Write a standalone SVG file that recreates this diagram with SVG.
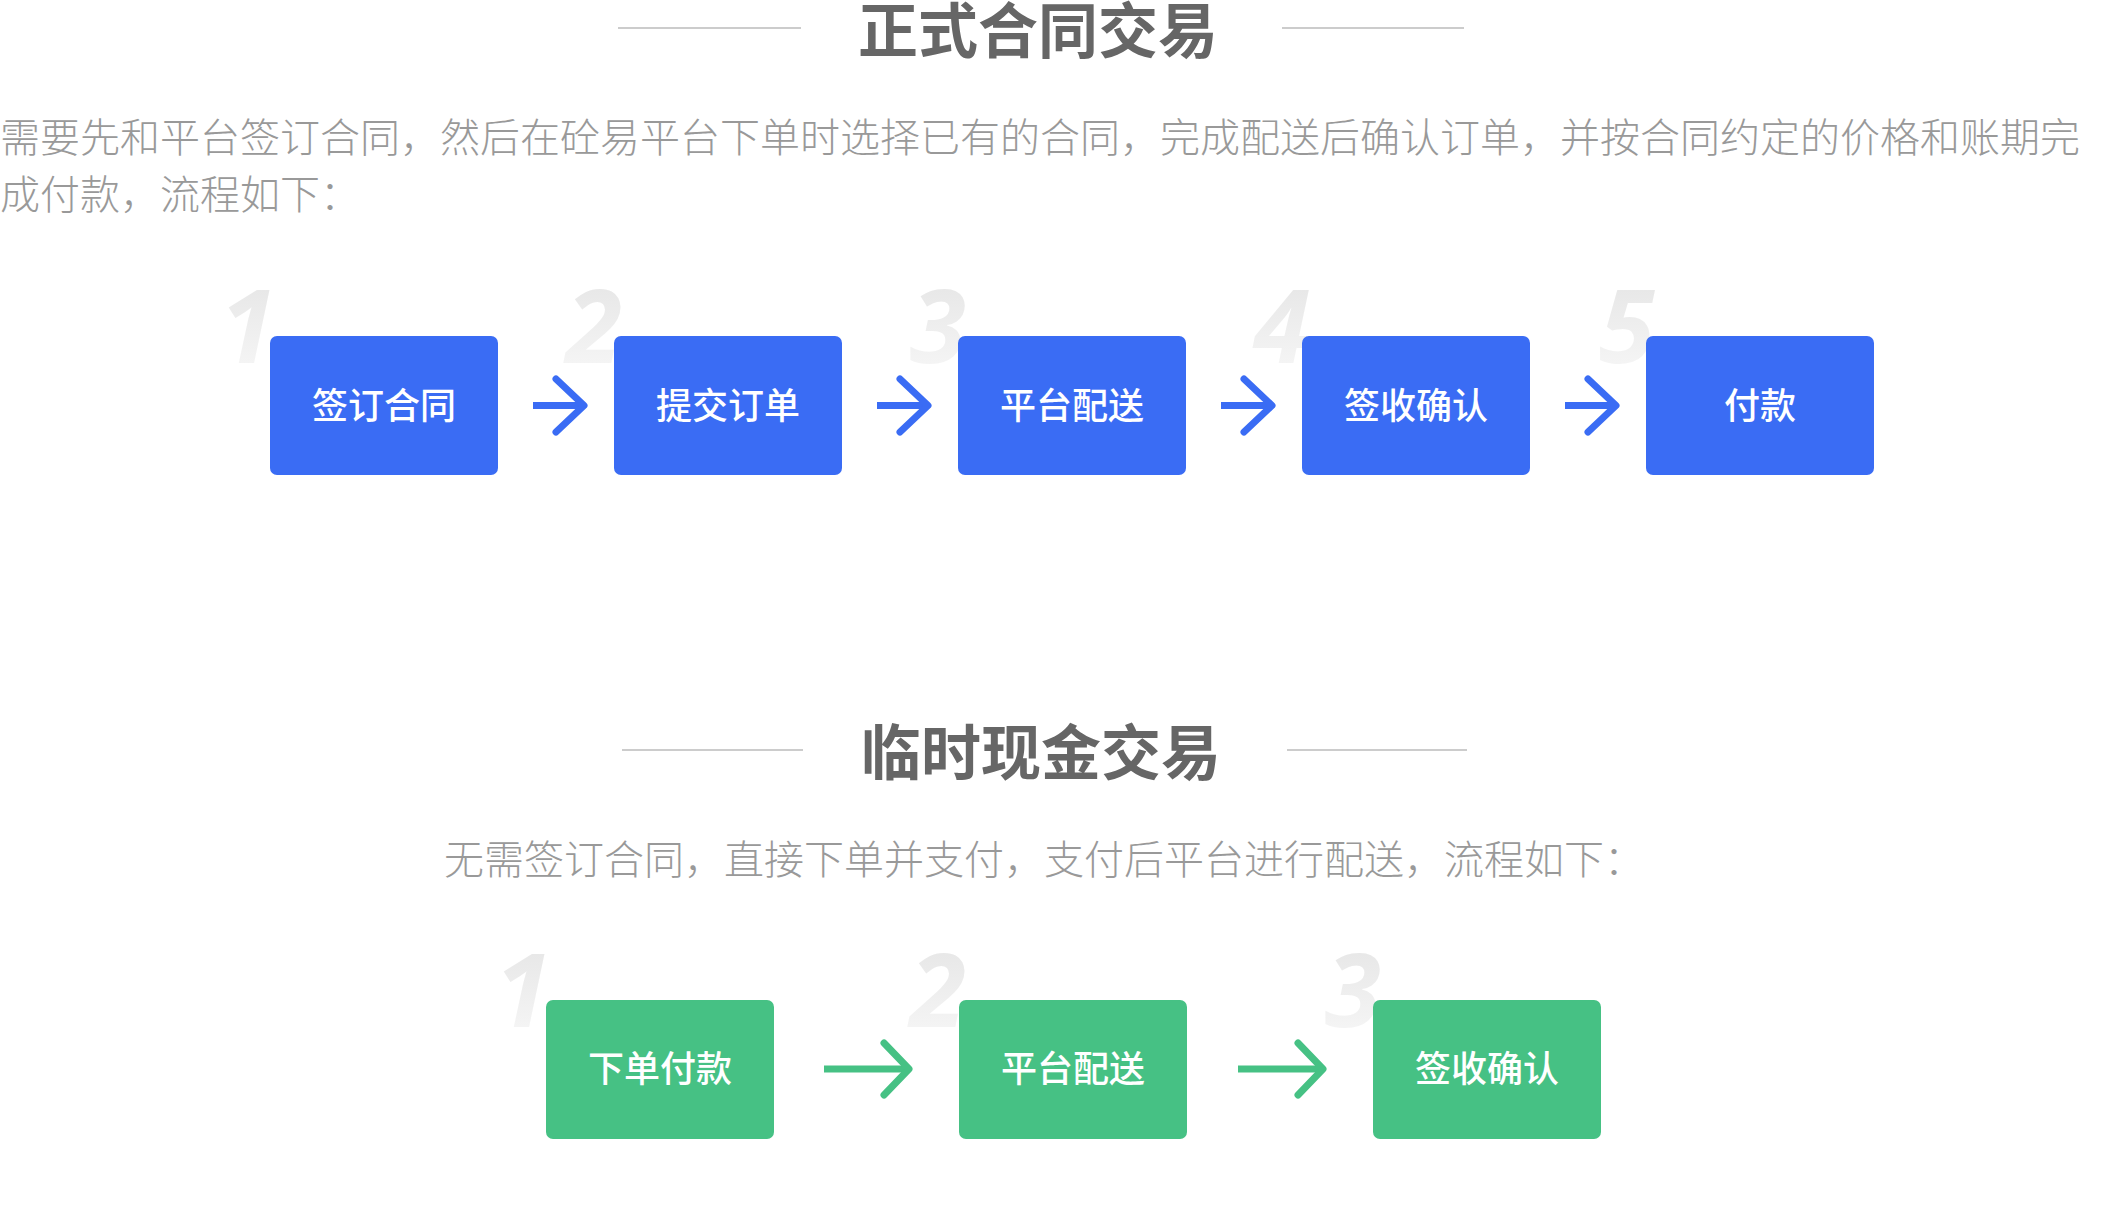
<svg xmlns="http://www.w3.org/2000/svg" width="2110" height="1210" viewBox="0 0 2110 1210">
<style>
.title{font-family:"Noto Sans CJK SC","Noto Sans",sans-serif;font-weight:bold;font-size:60px;fill:#666666;text-anchor:middle}
.para{font-family:"Noto Sans CJK SC","Noto Sans",sans-serif;font-weight:300;font-size:40px;fill:#999999}
.rule{stroke:#cccccc;stroke-width:2}
.num{font-family:"Open Sans","Noto Sans",sans-serif;font-weight:bold;font-style:italic;font-size:102px;fill:url(#numGrad);text-anchor:end}
.blue{fill:#3a6cf4}
.green{fill:#46c184}
.lbl{font-family:"Noto Sans CJK SC","Noto Sans",sans-serif;font-weight:500;font-size:36px;fill:#ffffff;text-anchor:middle}
.arrB{fill:none;stroke:#3a6cf4;stroke-width:7;stroke-linecap:round;stroke-linejoin:round}
.arrG{fill:none;stroke:#46c184;stroke-width:7;stroke-linecap:round;stroke-linejoin:round}
.shaft{stroke-linecap:butt}
</style>
<defs>
<linearGradient id="numGrad" x1="0" y1="0" x2="0" y2="1">
<stop offset="0" stop-color="#e2e2e2"/>
<stop offset="1" stop-color="#f9f9f9"/>
</linearGradient>
</defs>
<rect width="2110" height="1210" fill="#ffffff"/>

<g id="section1-header">
<line class="rule" x1="618" y1="28" x2="801" y2="28"/>
<line class="rule" x1="1282" y1="28" x2="1464" y2="28"/>
<text class="title" x="1038" y="53">正式合同交易</text>
<text class="para" x="0" y="152" textLength="2080" lengthAdjust="spacingAndGlyphs">需要先和平台签订合同，然后在砼易平台下单时选择已有的合同，完成配送后确认订单，并按合同约定的价格和账期完</text>
<text class="para" x="0" y="209">成付款，流程如下：</text>
</g>

<g id="section2-header">
<line class="rule" x1="622" y1="750" x2="803" y2="750"/>
<line class="rule" x1="1287" y1="750" x2="1467" y2="750"/>
<text class="title" x="1041" y="775">临时现金交易</text>
<text class="para" x="444" y="874">无需签订合同，直接下单并支付，支付后平台进行配送，流程如下：</text>
</g>

<g id="step-numbers">
<text class="num" x="276" y="363">1</text>
<text class="num" x="622" y="363">2</text>
<text class="num" x="966" y="363">3</text>
<text class="num" x="1310" y="363">4</text>
<text class="num" x="1655" y="363">5</text>
<text class="num" x="551" y="1027">1</text>
<text class="num" x="966" y="1027">2</text>
<text class="num" x="1381" y="1027">3</text>
</g>

<g id="connectors">
<g id="c1-1-2"><line class="arrB shaft" x1="533" y1="405.5" x2="584" y2="405.5"/><polyline class="arrB" points="556,379 584,405.5 556,432"/></g>
<g id="c1-2-3"><line class="arrB shaft" x1="877" y1="405.5" x2="928" y2="405.5"/><polyline class="arrB" points="900,379 928,405.5 900,432"/></g>
<g id="c1-3-4"><line class="arrB shaft" x1="1221" y1="405.5" x2="1272" y2="405.5"/><polyline class="arrB" points="1244,379 1272,405.5 1244,432"/></g>
<g id="c1-4-5"><line class="arrB shaft" x1="1565" y1="405.5" x2="1616" y2="405.5"/><polyline class="arrB" points="1588,379 1616,405.5 1588,432"/></g>
<g id="c2-1-2"><line class="arrG shaft" x1="824" y1="1069" x2="909" y2="1069"/><polyline class="arrG" points="884,1043 909,1069 884,1095"/></g>
<g id="c2-2-3"><line class="arrG shaft" x1="1238" y1="1069" x2="1323" y2="1069"/><polyline class="arrG" points="1298,1043 1323,1069 1298,1095"/></g>
</g>

<g id="node-sign-contract"><rect class="blue" x="270" y="336" width="228" height="139" rx="7"/><text class="lbl" x="384" y="419">签订合同</text></g>
<g id="node-submit-order"><rect class="blue" x="614" y="336" width="228" height="139" rx="7"/><text class="lbl" x="728" y="419">提交订单</text></g>
<g id="node-delivery-1"><rect class="blue" x="958" y="336" width="228" height="139" rx="7"/><text class="lbl" x="1072" y="419">平台配送</text></g>
<g id="node-confirm-1"><rect class="blue" x="1302" y="336" width="228" height="139" rx="7"/><text class="lbl" x="1416" y="419">签收确认</text></g>
<g id="node-pay-1"><rect class="blue" x="1646" y="336" width="228" height="139" rx="7"/><text class="lbl" x="1760" y="419">付款</text></g>

<g id="node-order-pay"><rect class="green" x="546" y="1000" width="228" height="139" rx="7"/><text class="lbl" x="660" y="1082">下单付款</text></g>
<g id="node-delivery-2"><rect class="green" x="959" y="1000" width="228" height="139" rx="7"/><text class="lbl" x="1073" y="1082">平台配送</text></g>
<g id="node-confirm-2"><rect class="green" x="1373" y="1000" width="228" height="139" rx="7"/><text class="lbl" x="1487" y="1082">签收确认</text></g>
</svg>
